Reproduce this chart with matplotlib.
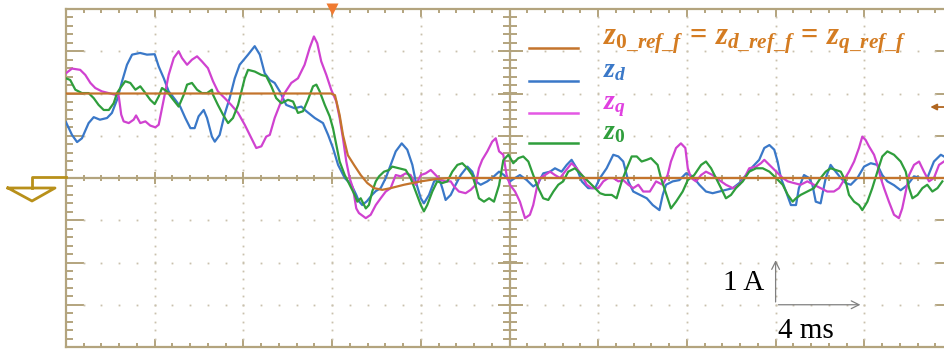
import matplotlib
matplotlib.use("Agg")
import matplotlib.pyplot as plt
from matplotlib.lines import Line2D
from matplotlib.ticker import MultipleLocator
import numpy as np

# scope capture: 4 ms / div, 1 A / div, 10 x 8 divisions
ref_pts = [(0.0, 2.0), (11.95, 2.0), (12.13, 1.96), (12.34, 1.49), (12.49, 1.02),
           (12.71, 0.54), (13.0, 0.30), (13.29, 0.07), (13.59, -0.12), (13.89, -0.24),
           (14.26, -0.28), (14.64, -0.24), (15.24, -0.16), (16.0, -0.08), (16.74, -0.02),
           (17.3, 0.0), (39.6, 0.0)]

zd_pts = [(0.0, 1.32), (0.27, 1.02), (0.50, 0.85), (0.72, 0.94), (1.02, 1.30), (1.25, 1.44),
          (1.53, 1.38), (1.85, 1.42), (2.07, 1.54), (2.30, 1.85), (2.53, 2.29), (2.75, 2.68),
          (2.98, 2.92), (3.34, 2.96), (3.65, 2.92), (4.00, 2.93), (4.18, 2.64), (4.41, 2.36),
          (4.63, 2.05), (4.93, 1.85), (5.15, 1.69), (5.38, 1.42), (5.61, 1.18), (5.80, 1.18),
          (5.98, 1.46), (6.21, 1.61), (6.36, 1.42), (6.58, 0.98), (6.71, 0.86), (6.93, 1.02),
          (7.15, 1.50), (7.38, 1.89), (7.61, 2.36), (7.83, 2.68), (8.21, 2.92), (8.51, 3.12),
          (8.74, 2.92), (8.96, 2.48), (9.19, 2.32), (9.41, 2.25), (9.64, 2.05), (9.93, 1.73),
          (10.31, 1.65), (10.61, 1.69), (10.84, 1.58), (11.22, 1.42), (11.59, 1.30), (11.82, 1.02),
          (12.04, 0.71), (12.27, 0.31), (12.57, 0.00), (12.87, -0.16), (13.09, -0.40), (13.21, -0.55),
          (13.36, -0.64), (13.57, -0.55), (13.80, -0.40), (13.97, -0.31), (14.19, -0.24), (14.42, 0.00),
          (14.64, 0.31), (14.87, 0.63), (15.14, 0.82), (15.39, 0.67), (15.62, 0.31), (15.77, -0.08),
          (16.00, -0.48), (16.14, -0.60), (16.37, -0.40), (16.60, -0.08), (16.82, 0.00), (16.97, -0.24),
          (17.12, -0.52), (17.35, -0.40), (17.57, -0.16), (17.80, 0.07), (18.10, 0.27), (18.32, 0.15),
          (18.48, -0.08), (18.70, -0.16), (19.00, -0.08), (19.30, 0.04), (19.53, 0.15), (19.75, 0.07),
          (20.02, -0.08), (20.25, 0.00), (20.47, 0.07), (20.78, -0.05), (21.07, -0.20), (21.30, -0.12),
          (21.52, 0.11), (21.83, 0.15), (22.05, 0.23), (22.35, 0.15), (22.58, 0.31), (22.80, 0.43),
          (23.03, 0.23), (23.26, -0.08), (23.55, -0.24), (23.86, -0.24), (24.08, 0.00), (24.38, 0.23),
          (24.68, 0.55), (24.91, 0.51), (25.13, 0.39), (25.36, -0.08), (25.58, -0.32), (25.89, -0.40),
          (26.19, -0.48), (26.46, -0.64), (26.76, -0.76), (26.91, -0.40), (27.06, -0.16), (27.36, -0.08),
          (27.66, -0.05), (27.96, 0.11), (28.26, 0.04), (28.56, -0.16), (28.86, -0.32), (29.16, -0.36),
          (29.46, -0.32), (29.76, -0.28), (30.07, -0.24), (30.36, -0.12), (30.67, 0.07), (30.97, 0.27),
          (31.26, 0.43), (31.49, 0.71), (31.72, 0.78), (31.94, 0.67), (32.09, 0.39), (32.24, 0.00),
          (32.47, -0.32), (32.69, -0.64), (32.92, -0.64), (33.05, -0.24), (33.28, 0.07), (33.51, 0.00),
          (33.66, -0.16), (33.81, -0.56), (34.03, -0.60), (34.26, 0.00), (34.48, 0.31), (34.71, 0.15),
          (34.94, 0.00), (35.16, -0.12), (35.39, -0.16), (35.69, 0.00), (35.99, 0.27), (36.29, 0.35),
          (36.59, 0.31), (36.81, 0.07), (37.04, -0.08), (37.34, -0.17), (37.64, -0.29), (37.94, -0.17),
          (38.24, 0.04), (38.54, 0.00), (38.84, 0.00), (39.14, 0.39), (39.45, 0.55), (39.59, 0.51)]

zq_pts = [(0.0, 2.48), (0.27, 2.59), (0.64, 2.56), (0.87, 2.44), (1.10, 2.25), (1.32, 2.13),
          (1.62, 2.05), (1.93, 2.01), (2.22, 1.97), (2.38, 1.93), (2.49, 1.50), (2.60, 1.34),
          (2.83, 1.30), (3.05, 1.38), (3.16, 1.48), (3.35, 1.30), (3.58, 1.34), (3.80, 1.24),
          (4.03, 1.20), (4.18, 1.26), (4.33, 1.65), (4.48, 2.05), (4.63, 2.44), (4.86, 2.84),
          (5.08, 3.00), (5.23, 2.84), (5.46, 2.68), (5.68, 2.80), (5.91, 2.88), (6.13, 2.76),
          (6.40, 2.60), (6.63, 2.29), (6.85, 2.05), (7.16, 1.89), (7.45, 1.73), (7.76, 1.54),
          (8.06, 1.26), (8.36, 0.94), (8.58, 0.71), (8.81, 0.75), (9.03, 0.98), (9.19, 1.02),
          (9.41, 1.42), (9.64, 1.73), (9.86, 2.01), (10.16, 2.25), (10.46, 2.36), (10.76, 2.68),
          (10.99, 3.08), (11.18, 3.35), (11.33, 3.19), (11.51, 2.76), (11.74, 2.44), (11.96, 2.09),
          (12.19, 1.81), (12.34, 1.42), (12.49, 0.94), (12.64, 0.39), (12.79, 0.00), (12.94, -0.24),
          (13.09, -0.72), (13.21, -0.83), (13.52, -0.95), (13.74, -0.87), (13.97, -0.64), (14.19, -0.48),
          (14.42, -0.32), (14.64, -0.24), (14.87, 0.07), (15.09, 0.04), (15.32, 0.11), (15.54, 0.07),
          (15.77, -0.16), (16.00, 0.07), (16.22, 0.11), (16.45, 0.19), (16.67, 0.07), (16.90, -0.05),
          (17.12, -0.08), (17.35, -0.08), (17.50, -0.20), (17.72, -0.32), (18.02, -0.36), (18.25, -0.28),
          (18.48, -0.16), (18.62, 0.23), (18.77, 0.43), (19.00, 0.63), (19.22, 0.86), (19.38, 0.94),
          (19.53, 0.63), (19.72, 0.55), (19.87, 0.07), (20.02, -0.16), (20.25, -0.32), (20.47, -0.56),
          (20.70, -0.95), (20.92, -0.87), (21.07, -0.64), (21.23, -0.24), (21.38, 0.00), (21.60, 0.07),
          (21.83, 0.15), (22.05, 0.07), (22.28, 0.00), (22.50, 0.15), (22.80, 0.35), (23.03, 0.23),
          (23.26, 0.07), (23.48, -0.16), (23.71, -0.24), (24.01, -0.24), (24.23, -0.08), (24.46, 0.00),
          (24.68, 0.00), (24.91, -0.08), (25.13, -0.05), (25.36, -0.16), (25.58, -0.24), (25.81, -0.16),
          (26.03, -0.32), (26.33, -0.32), (26.61, -0.08), (26.91, -0.16), (27.13, 0.07), (27.28, 0.39),
          (27.51, 0.71), (27.73, 0.82), (27.93, 0.71), (28.04, 0.23), (28.19, 0.00), (28.41, -0.08),
          (28.64, 0.07), (28.86, 0.15), (29.16, 0.07), (29.46, -0.05), (29.76, -0.16), (30.07, -0.24),
          (30.36, -0.16), (30.59, 0.00), (30.81, 0.23), (31.12, 0.27), (31.34, 0.35), (31.49, 0.43),
          (31.72, 0.31), (32.02, 0.15), (32.32, 0.00), (32.55, -0.08), (32.83, -0.12), (33.13, -0.16),
          (33.43, -0.08), (33.73, -0.16), (34.03, -0.24), (34.33, -0.32), (34.63, -0.32), (34.86, -0.24),
          (35.08, -0.05), (35.31, 0.15), (35.54, 0.39), (35.76, 0.71), (35.91, 0.98), (36.06, 0.90),
          (36.21, 0.75), (36.44, 0.55), (36.59, 0.31), (36.74, 0.00), (36.89, -0.24), (37.11, -0.56),
          (37.34, -0.87), (37.56, -0.95), (37.71, -0.72), (37.87, -0.32), (38.02, 0.07), (38.24, 0.31),
          (38.47, 0.39), (38.69, 0.15), (38.92, -0.08), (39.14, 0.00), (39.37, 0.31), (39.59, 0.39)]

z0_pts = [(0.0, 2.36), (0.19, 2.32), (0.42, 2.09), (0.72, 2.01), (1.02, 2.01), (1.25, 1.89),
          (1.47, 1.73), (1.70, 1.61), (1.93, 1.61), (2.15, 1.77), (2.30, 2.01), (2.45, 2.13),
          (2.67, 2.29), (2.90, 2.25), (3.13, 2.09), (3.35, 2.17), (3.58, 2.01), (3.80, 1.85),
          (4.00, 1.75), (4.18, 1.93), (4.33, 2.13), (4.55, 2.05), (4.78, 1.89), (5.08, 1.69),
          (5.31, 1.97), (5.46, 2.21), (5.68, 2.25), (5.91, 2.09), (6.13, 2.01), (6.36, 2.01),
          (6.58, 2.09), (6.63, 1.97), (6.85, 1.73), (7.08, 1.50), (7.31, 1.30), (7.53, 1.42),
          (7.76, 1.73), (7.91, 2.05), (8.06, 2.36), (8.21, 2.56), (8.51, 2.52), (8.81, 2.44),
          (9.03, 2.41), (9.26, 2.17), (9.48, 1.89), (9.71, 1.77), (10.01, 1.85), (10.24, 1.81),
          (10.46, 1.54), (10.69, 1.58), (10.91, 1.85), (11.14, 2.17), (11.29, 2.21), (11.44, 2.05),
          (11.67, 1.73), (11.89, 1.46), (12.04, 1.18), (12.19, 0.78), (12.34, 0.39), (12.57, 0.07),
          (12.79, -0.16), (13.02, -0.40), (13.14, -0.56), (13.29, -0.48), (13.52, -0.72), (13.66, -0.64),
          (13.81, -0.32), (13.97, -0.08), (14.12, 0.04), (14.34, 0.15), (14.57, 0.19), (14.71, 0.27),
          (15.02, 0.23), (15.32, 0.19), (15.54, 0.00), (15.77, -0.32), (16.00, -0.64), (16.14, -0.79),
          (16.29, -0.64), (16.52, -0.32), (16.74, -0.08), (16.97, -0.12), (17.20, -0.08), (17.42, 0.15),
          (17.65, 0.31), (17.87, 0.35), (18.10, 0.23), (18.32, 0.07), (18.48, -0.20), (18.62, -0.48),
          (18.85, -0.56), (19.08, -0.48), (19.30, -0.56), (19.53, -0.17), (19.72, 0.42), (19.95, 0.55),
          (20.17, 0.35), (20.40, 0.47), (20.62, 0.51), (20.85, 0.39), (21.07, 0.07), (21.30, -0.24),
          (21.52, -0.48), (21.75, -0.52), (21.98, -0.32), (22.20, -0.16), (22.42, -0.08), (22.65, 0.15),
          (22.95, 0.23), (23.26, 0.07), (23.55, -0.08), (23.86, -0.24), (24.08, -0.36), (24.31, -0.40),
          (24.61, -0.40), (24.83, -0.48), (25.06, -0.08), (25.29, 0.23), (25.51, 0.51), (25.74, 0.51),
          (25.96, 0.39), (26.19, 0.43), (26.38, 0.47), (26.68, 0.31), (26.83, 0.00), (26.98, -0.24),
          (27.13, -0.48), (27.28, -0.72), (27.51, -0.56), (27.81, -0.32), (28.04, -0.05), (28.33, 0.07),
          (28.64, 0.31), (28.86, 0.39), (29.09, 0.23), (29.31, 0.00), (29.54, -0.24), (29.76, -0.48),
          (29.99, -0.40), (30.21, -0.24), (30.52, -0.08), (30.81, 0.15), (31.12, 0.23), (31.42, 0.23),
          (31.72, 0.15), (32.02, 0.00), (32.32, -0.16), (32.55, -0.40), (32.77, -0.56), (32.92, -0.48),
          (33.13, -0.40), (33.43, -0.32), (33.73, -0.24), (34.03, 0.00), (34.26, 0.15), (34.48, 0.23),
          (34.71, 0.19), (34.94, 0.15), (35.16, -0.08), (35.31, -0.40), (35.54, -0.56), (35.76, -0.64),
          (35.91, -0.76), (36.14, -0.56), (36.36, -0.24), (36.59, 0.15), (36.81, 0.51), (37.04, 0.63),
          (37.34, 0.55), (37.64, 0.39), (37.87, 0.15), (38.02, -0.24), (38.17, -0.48), (38.40, -0.40),
          (38.62, -0.24), (38.84, -0.16), (39.07, -0.32), (39.30, -0.24), (39.52, -0.08)]

REF_C = "#c4742c"
ZD_C = "#3a78c8"
ZQ_C = "#d042d0"
Z0_C = "#2f9e3c"
TXT_C = "#d47c22"
GRID_C = "#c9c1ad"
FRAME_C = "#b3a47e"

plt.rcParams['mathtext.fontset'] = 'custom'
plt.rcParams['mathtext.it'] = 'Liberation Serif:italic:bold'
plt.rcParams['mathtext.rm'] = 'Liberation Serif:bold'
plt.rcParams['mathtext.bf'] = 'Liberation Serif:bold'

W, H = 944, 349
fig = plt.figure(figsize=(W / 100, H / 100), dpi=100)
# plot area: 66..953 px wide (right edge is cut off), 9..347 px tall
ax = fig.add_axes([66 / W, 2 / H, 887 / W, 338 / H])
ax.set_xlim(0, 40)
ax.set_ylim(-4, 4)

def px(x, y):
    return x / W, 1 - y / H

# frame + ticks
for s in ax.spines.values():
    s.set_color(FRAME_C)
    s.set_linewidth(1.6)
ax.xaxis.set_major_locator(MultipleLocator(4))
ax.xaxis.set_minor_locator(MultipleLocator(0.8))
ax.yaxis.set_major_locator(MultipleLocator(1))
ax.yaxis.set_minor_locator(MultipleLocator(0.2))
ax.tick_params(which='both', direction='in', top=True, right=True,
               labelbottom=False, labelleft=False, color=FRAME_C, width=1.4)
ax.tick_params(axis='x', which='major', length=6)
ax.tick_params(axis='x', which='minor', length=3)
ax.tick_params(axis='y', which='major', length=13)
ax.tick_params(axis='y', which='minor', length=5)

# dotted graticule
xs_minor = np.arange(0.8, 40, 0.8)
ys_minor = np.arange(-3.8, 4, 0.2)
for yy in [-3, -2, -1, 1, 2, 3]:
    ax.plot(xs_minor, np.full(len(xs_minor), yy), ls='none', marker='s', ms=1.3,
            color=GRID_C, mec='none')
for xx in [4, 8, 12, 16, 24, 28, 32, 36]:
    ax.plot(np.full(len(ys_minor), xx), ys_minor, ls='none', marker='s', ms=1.3,
            color=GRID_C, mec='none')

# centre cross with its own ticks
ax.axhline(0, color=FRAME_C, lw=1.6, zorder=1)
ax.axvline(20, color=FRAME_C, lw=1.6, zorder=1)
ax.plot(xs_minor, np.zeros(len(xs_minor)), ls='none', marker='|', ms=4.5, mew=1.4, color=FRAME_C)
ax.plot(np.arange(0, 41, 4), np.zeros(11), ls='none', marker='|', ms=9, mew=1.4, color=FRAME_C)
ax.plot(np.full(len(ys_minor), 20), ys_minor, ls='none', marker='_', ms=10, mew=1.4, color=FRAME_C)
ax.plot(np.full(9, 20), np.arange(-4, 5, 1), ls='none', marker='_', ms=18, mew=1.4, color=FRAME_C)

# traces
for pts, c in [(zd_pts, ZD_C), (zq_pts, ZQ_C), (z0_pts, Z0_C), (ref_pts, REF_C)]:
    t, v = np.array(pts).T
    ax.plot(t, v, color=c, lw=1.6, zorder=3)

# trigger position / level markers
ax.plot(12.0, 4.0, marker='v', ms=9, color='#f07a30', mec='none', clip_on=False, zorder=5)
ax.annotate('', xy=(38.85, 1.68), xytext=(40, 1.68),
            arrowprops=dict(arrowstyle='-|>', color='#b06620', lw=1.3, mutation_scale=9))

# ground reference symbol
gx, gy = zip(*[px(66, 177), px(32, 177), px(32, 188)])
fig.add_artist(Line2D(gx, gy, color='#b8901a', lw=2, transform=fig.transFigure))
tx, ty = zip(*[px(8, 188), px(55, 188), px(32, 201), px(8, 188)])
fig.add_artist(Line2D(tx, ty, color='#b8901a', lw=2, transform=fig.transFigure))

# legend drawn by hand
legend_rows = [(48, REF_C, r'$z_{\mathit{0\_ref\_f}}\,=\,z_{d\_ref\_f}\,=\,z_{q\_ref\_f}$', TXT_C, 22),
               (81, ZD_C, r'$z_d$', ZD_C, 20),
               (113, '#e458e4', r'$z_q$', '#e040e0', 20),
               (143, Z0_C, r'$z_{\mathit{0}}$', Z0_C, 20)]
for y, lc, label, tc, fs in legend_rows:
    lx, ly = zip(*[px(529, y), px(578, y)])
    fig.add_artist(Line2D(lx, ly, color=lc, lw=1.8, transform=fig.transFigure))
    fx, fy = px(603, y - 4)
    fig.text(fx, fy, label, color=tc, fontsize=fs, va='baseline', ha='left')

# scale arrows
ax.annotate('', xy=(32.0, -1.88), xytext=(32.0, -3.0),
            arrowprops=dict(arrowstyle='->', color='#808080', lw=0.9, mutation_scale=14))
ax.annotate('', xy=(35.95, -3.0), xytext=(32.0, -3.0),
            arrowprops=dict(arrowstyle='->', color='#808080', lw=0.9, mutation_scale=14))
ax.text(31.5, -2.66, '1 A', family='Liberation Serif', fontsize=21, ha='right', va='baseline')
ax.text(32.1, -3.79, '4 ms', family='Liberation Serif', fontsize=21, ha='left', va='baseline')

fig.savefig('out.png', dpi=100)
